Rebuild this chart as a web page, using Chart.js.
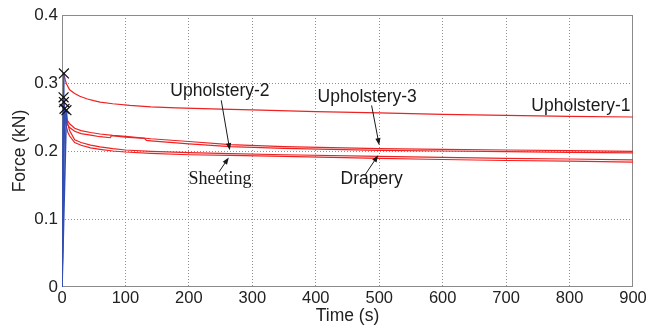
<!DOCTYPE html>
<html>
<head>
<meta charset="utf-8">
<script src="https://cdn.jsdelivr.net/npm/chart.js@4.4.1/dist/chart.umd.min.js"></script>
<style>
  html, body { margin: 0; padding: 0; background: #ffffff; }
  #wrap { width: 661px; height: 329px; }
</style>
</head>
<body>
<div id="wrap"><canvas id="c" width="661" height="329"></canvas></div>
<script>
// Axis ticks
const xTicks = [0, 100, 200, 300, 400, 500, 600, 700, 800, 900];
const yTicks = [0, 0.1, 0.2, 0.3, 0.4];

// Stress relaxation curves: time (s) and force (kN); the first point of each is the peak
const upholstery1Time  = [3, 5, 7, 12, 20, 28, 40, 50, 60, 80, 107, 140, 180, 250, 300, 400, 500, 600, 700, 800, 900];
const upholstery1Force = [0.314, 0.305, 0.299, 0.290, 0.2845, 0.2805, 0.2765, 0.274, 0.272, 0.2695, 0.267, 0.265, 0.2635, 0.2615, 0.2605, 0.258, 0.256, 0.254, 0.2525, 0.251, 0.250];

const upholstery3Time  = [2.5, 5, 8, 12, 20, 30, 45, 60, 80, 100, 140, 200, 265, 350, 500, 600, 700, 800, 900];
const upholstery3Force = [0.279, 0.256, 0.246, 0.240, 0.2335, 0.230, 0.2272, 0.225, 0.223, 0.2215, 0.218, 0.214, 0.2095, 0.2065, 0.2035, 0.2025, 0.2015, 0.2005, 0.1995];

const upholstery2Time  = [3, 5, 8, 12, 20, 30, 45, 60, 76, 78, 100, 130, 133, 140, 200, 265, 350, 500, 600, 700, 800, 900];
const upholstery2Force = [0.272, 0.250, 0.240, 0.2345, 0.229, 0.2255, 0.2233, 0.221, 0.2195, 0.2225, 0.2205, 0.2185, 0.2155, 0.215, 0.2105, 0.2065, 0.204, 0.201, 0.200, 0.199, 0.198, 0.1972];

const draperyTime  = [7, 9, 12, 20, 30, 45, 60, 80, 100, 140, 200, 265, 350, 500, 600, 700, 800, 900];
const draperyForce = [0.260, 0.240, 0.230, 0.2165, 0.2125, 0.2086, 0.206, 0.2035, 0.2015, 0.1995, 0.1975, 0.1962, 0.1945, 0.192, 0.1905, 0.1893, 0.1882, 0.187];

const sheetingTime  = [4, 6, 9, 12, 20, 30, 45, 60, 80, 100, 140, 200, 265, 350, 500, 600, 700, 800, 900];
const sheetingForce = [0.262, 0.240, 0.228, 0.222, 0.2125, 0.2085, 0.2046, 0.2025, 0.200, 0.1985, 0.1965, 0.1945, 0.1935, 0.192, 0.1893, 0.1875, 0.186, 0.185, 0.1835];

const seriesNames = ['Upholstery-1', 'Upholstery-3', 'Upholstery-2', 'Drapery', 'Sheeting'];
const seriesTimes = [upholstery1Time, upholstery3Time, upholstery2Time, draperyTime, sheetingTime];
const seriesForces = [upholstery1Force, upholstery3Force, upholstery2Force, draperyForce, sheetingForce];

// Callout labels: text placed at (tx, ty), arrow from (ax0, ay0) to tip (ax1, ay1), in data units
const callouts = [
  { text: 'Upholstery-2', tx: 249, ty: 0.288, serif: false, arrow: [251, 0.2745, 264.5, 0.2012] },
  { text: 'Upholstery-3', tx: 481, ty: 0.279, serif: false, arrow: [488, 0.2670, 500, 0.2086] },
  { text: 'Upholstery-1', tx: 818, ty: 0.2666, serif: false, arrow: null },
  { text: 'Sheeting',     tx: 249, ty: 0.1586, serif: true,  arrow: [247.6, 0.1694, 262.9, 0.1905] },
  { text: 'Drapery',      tx: 488, ty: 0.1586, serif: false, arrow: [477.4, 0.1645, 498.4, 0.1939] }
];

const RED = 'rgb(238, 34, 34)';
const BLUE = 'rgb(52, 78, 176)';
const SANS = "'Liberation Sans', Arial, sans-serif";
const SERIF = "'Liberation Serif', 'Times New Roman', serif";

const pts = (ts, fs) => ts.map((t, i) => ({ x: t, y: fs[i] }));

const datasets = [];
// peak markers (painted on top, not clipped at the axis)
datasets.push({
  label: 'Peak',
  data: seriesNames.map((n, i) => ({ x: seriesTimes[i][0], y: seriesForces[i][0] })),
  showLine: false, pointStyle: 'crossRot', pointRadius: 7, pointBorderWidth: 1.2,
  pointBorderColor: '#111', pointBackgroundColor: '#111', order: 0, clip: false
});
// relaxation (red)
seriesNames.forEach((name, i) => {
  datasets.push({
    label: name,
    data: pts(seriesTimes[i], seriesForces[i]),
    borderColor: RED, borderWidth: 1.2, pointRadius: 0, tension: 0, fill: false, order: 3
  });
});
// loading ramp (blue): from rest to the peak
seriesNames.forEach((name, i) => {
  datasets.push({
    label: name + ' loading',
    data: [{ x: 0, y: 0 }, { x: seriesTimes[i][0], y: seriesForces[i][0] }],
    borderColor: BLUE, borderWidth: 1.6, pointRadius: 0, tension: 0, fill: false, order: 2
  });
});

const frame = {
  id: 'frame',
  beforeDatasetsDraw(chart) {
    const { ctx, chartArea: a } = chart;
    ctx.save();
    ctx.strokeStyle = '#8a8a8a';
    ctx.lineWidth = 1;
    ctx.strokeRect(Math.round(a.left) + 0.5, Math.round(a.top) + 0.5,
                   Math.round(a.right - a.left) - 1, Math.round(a.bottom - a.top) - 1);
    ctx.restore();
  }
};

const notes = {
  id: 'notes',
  afterDatasetsDraw(chart) {
    const { ctx, scales: { x, y } } = chart;
    ctx.save();
    ctx.fillStyle = '#1a1a1a';
    ctx.strokeStyle = '#1a1a1a';
    ctx.textAlign = 'center';
    ctx.textBaseline = 'middle';
    callouts.forEach(c => {
      ctx.font = c.serif ? `18px ${SERIF}` : `17.5px ${SANS}`;
      ctx.fillText(c.text, x.getPixelForValue(c.tx), y.getPixelForValue(c.ty));
      if (!c.arrow) return;
      const x0 = x.getPixelForValue(c.arrow[0]), y0 = y.getPixelForValue(c.arrow[1]);
      const x1 = x.getPixelForValue(c.arrow[2]), y1 = y.getPixelForValue(c.arrow[3]);
      const ang = Math.atan2(y1 - y0, x1 - x0);
      const L = 7, W = 2.6;
      ctx.lineWidth = 1;
      ctx.beginPath();
      ctx.moveTo(x0, y0);
      ctx.lineTo(x1 - Math.cos(ang) * L * 0.8, y1 - Math.sin(ang) * L * 0.8);
      ctx.stroke();
      ctx.beginPath();
      ctx.moveTo(x1, y1);
      ctx.lineTo(x1 - Math.cos(ang) * L - Math.sin(ang) * W, y1 - Math.sin(ang) * L + Math.cos(ang) * W);
      ctx.lineTo(x1 - Math.cos(ang) * L + Math.sin(ang) * W, y1 - Math.sin(ang) * L - Math.cos(ang) * W);
      ctx.closePath();
      ctx.fill();
    });
    ctx.restore();
  }
};

const innerGrid = (ctx) => {
  const n = ctx.scale.ticks.length;
  return (ctx.index === 0 || ctx.index === n - 1) ? 'rgba(0,0,0,0)' : '#909090';
};

new Chart(document.getElementById('c'), {
  type: 'line',
  data: { datasets },
  options: {
    responsive: false,
    devicePixelRatio: 1,
    animation: false,
    parsing: true,
    layout: { padding: { left: 0, right: 28, top: 15, bottom: 0 } },
    plugins: { legend: { display: false }, tooltip: { enabled: false } },
    scales: {
      x: {
        type: 'linear', min: 0, max: 900,
        afterBuildTicks: s => { s.ticks = xTicks.map(v => ({ value: v })); },
        afterFit: s => { s.height = 42; },
        ticks: { color: '#222', font: { family: SANS, size: 16.5 }, padding: 2, maxRotation: 0 },
        grid: { color: innerGrid, lineWidth: 1, drawTicks: false },
        border: { display: false, dash: [1, 2] },
        title: { display: true, text: 'Time (s)', color: '#222', font: { family: SANS, size: 17.5 }, padding: { top: 0, bottom: 2 } }
      },
      y: {
        type: 'linear', min: 0, max: 0.4,
        afterBuildTicks: s => { s.ticks = yTicks.map(v => ({ value: v })); },
        afterFit: s => { s.width = 62; },
        ticks: { color: '#222', font: { family: SANS, size: 17 }, padding: 4,
                 callback: v => (v === 0 ? '0' : v.toFixed(1)) },
        grid: { color: innerGrid, lineWidth: 1, drawTicks: false },
        border: { display: false, dash: [1, 2] },
        title: { display: true, text: 'Force (kN)', color: '#222', font: { family: SANS, size: 17.5 }, padding: { top: 10, bottom: 0 } }
      }
    }
  },
  plugins: [frame, notes]
});
</script>
</body>
</html>
